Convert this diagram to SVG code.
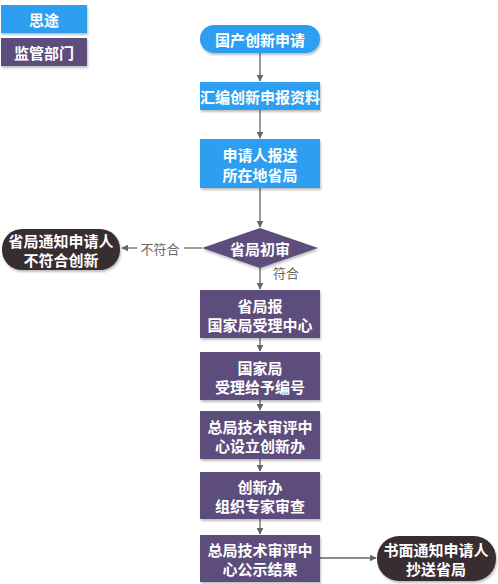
<svg xmlns="http://www.w3.org/2000/svg" width="498" height="584" viewBox="0 0 498 584">
<style>
.t{font-family:"Noto Sans CJK SC","Noto Sans",sans-serif;font-size:15px;font-weight:bold;fill:#fff;text-anchor:middle;dominant-baseline:central}
.l{font-family:"Noto Sans CJK SC","Noto Sans",sans-serif;font-size:13px;fill:#666;text-anchor:middle;dominant-baseline:central}
.b{fill:#2f9ff0}
.p{fill:#5d4d7b}
.d{fill:#372f30}
.c{stroke:#666;stroke-width:1.3;fill:none;marker-end:url(#a)}
</style>
<defs>
<marker id="a" viewBox="0 0 10 10" refX="9" refY="5" markerWidth="7" markerHeight="7" orient="auto" markerUnits="userSpaceOnUse"><path d="M0,0 L10,5 L0,10 z" fill="#666"/></marker>
<filter id="s" x="-10%" y="-10%" width="120%" height="130%"><feDropShadow dx="1" dy="2" stdDeviation="1.2" flood-color="#000" flood-opacity="0.25"/></filter>
</defs>
<g id="legend1"><rect class="b" x="1" y="5" width="86" height="28" filter="url(#s)"/><text class="t" x="44" y="19">思途</text></g>
<g id="legend2"><rect class="p" x="1" y="38" width="86" height="28" filter="url(#s)"/><text class="t" x="44" y="52">监管部门</text></g>
<g id="connectors">
<line class="c" x1="260" y1="53" x2="260" y2="81"/>
<line class="c" x1="260" y1="110" x2="260" y2="138"/>
<line class="c" x1="260" y1="188" x2="260" y2="227"/>
<line x1="202" y1="248" x2="184" y2="248" stroke="#666" stroke-width="1.3"/>
<line class="c" x1="137" y1="248" x2="122" y2="248"/>
<text class="l" x="160" y="248">不符合</text>
<line class="c" x1="260" y1="268" x2="260" y2="289"/>
<text class="l" x="286" y="272">符合</text>
<line class="c" x1="260" y1="338" x2="260" y2="351"/>
<line class="c" x1="260" y1="400" x2="260" y2="410"/>
<line class="c" x1="260" y1="459" x2="260" y2="471"/>
<line class="c" x1="260" y1="519" x2="260" y2="534"/>
<line class="c" x1="320" y1="558" x2="376" y2="558"/>
</g>
<g id="n1"><rect class="b" x="200" y="25" width="120" height="28" rx="14" filter="url(#s)"/><text class="t" x="260" y="39">国产创新申请</text></g>
<g id="n2"><rect class="b" x="200" y="82" width="120" height="28" filter="url(#s)"/><text class="t" x="260" y="96">汇编创新申报资料</text></g>
<g id="n3"><rect class="b" x="200" y="139" width="120" height="49" filter="url(#s)"/><text class="t" x="260" y="154">申请人报送</text><text class="t" x="260" y="174">所在地省局</text></g>
<g id="n4"><polygon class="p" points="260,228 318,248 260,268 202,248" filter="url(#s)"/><text class="t" x="260" y="248">省局初审</text></g>
<g id="n5"><rect class="d" x="2" y="229" width="118" height="41" rx="20" filter="url(#s)"/><text class="t" x="61" y="240">省局通知申请人</text><text class="t" x="61" y="259">不符合创新</text></g>
<g id="n6"><rect class="p" x="200" y="290" width="120" height="48" filter="url(#s)"/><text class="t" x="260" y="305">省局报</text><text class="t" x="260" y="324">国家局受理中心</text></g>
<g id="n7"><rect class="p" x="200" y="352" width="120" height="48" filter="url(#s)"/><text class="t" x="260" y="367">国家局</text><text class="t" x="260" y="386">受理给予编号</text></g>
<g id="n8"><rect class="p" x="200" y="411" width="120" height="48" filter="url(#s)"/><text class="t" x="260" y="426">总局技术审评中</text><text class="t" x="260" y="445">心设立创新办</text></g>
<g id="n9"><rect class="p" x="200" y="472" width="120" height="47" filter="url(#s)"/><text class="t" x="260" y="486">创新办</text><text class="t" x="260" y="505">组织专家审查</text></g>
<g id="n10"><rect class="p" x="200" y="535" width="120" height="47" filter="url(#s)"/><text class="t" x="260" y="549">总局技术审评中</text><text class="t" x="260" y="568">心公示结果</text></g>
<g id="n11"><rect class="d" x="377" y="536" width="119" height="45" rx="22" filter="url(#s)"/><text class="t" x="436" y="549">书面通知申请人</text><text class="t" x="436" y="568">抄送省局</text></g>
</svg>
